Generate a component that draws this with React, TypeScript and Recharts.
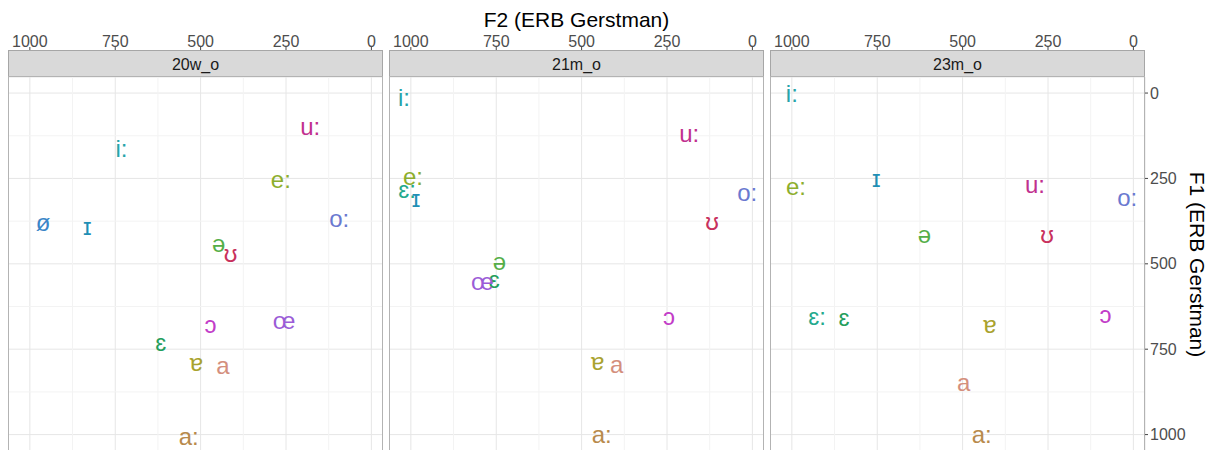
import { ScatterChart, Scatter, XAxis, YAxis, CartesianGrid, ReferenceLine } from "recharts"

// vowel order + colours (shared across panels)
const vowelNames = ["a", "a:", "ɐ", "ə", "ɛ", "ɛ:", "e:", "i:", "ɪ", "ø", "o:", "œ", "ɔ", "u:", "ʊ"]
const vowelColors = [
  "#d48f7d", "#b88a4c", "#a9a22e", "#55ae48", "#249e5c", "#23a98c", "#8dae2d", "#27a4aa",
  "#1f8fb5", "#3b86c8", "#6a79d0", "#9b5cd7", "#c23dc8", "#c1308f", "#c8315d",
]

const speakers = ["20w_o", "21m_o", "23m_o"]

// 20w_o
const vowels20w = ["u:", "i:", "e:", "o:", "ø", "ɪ", "ə", "ʊ", "ɔ", "œ", "ɛ", "ɐ", "a", "a:"]
const f2_20w = [179, 732, 265, 94, 961, 832, 447, 412, 471, 256, 617, 512, 435, 535]
const f1_20w = [99, 161, 254, 366, 380, 392, 441, 471, 678, 667, 731, 790, 798, 1006]

// 21m_o
const vowels21m = ["i:", "u:", "e:", "ɛ:", "ɪ", "o:", "ʊ", "ə", "ɛ", "œ", "ɔ", "ɐ", "a", "a:"]
const f2_21m = [1020, 185, 994, 1011, 985, 15, 118, 741, 756, 791, 244, 453, 397, 441]
const f1_21m = [12, 117, 243, 281, 310, 292, 377, 494, 547, 552, 655, 787, 795, 1000]

// 23m_o
const vowels23m = ["i:", "e:", "ɪ", "u:", "o:", "ə", "ʊ", "ɛ:", "ɛ", "ɐ", "ɔ", "a", "a:"]
const f2_23m = [1000, 988, 753, 288, 18, 612, 253, 926, 847, 420, 82, 497, 444]
const f1_23m = [0, 275, 249, 269, 307, 415, 415, 655, 658, 678, 649, 848, 1000]

const majorTicks = [0, 250, 500, 750, 1000]
const minorTicks = [125, 375, 625, 875]

const F2_DOMAIN = [-34, 1064]
const F1_DOMAIN = [-47, 1051]

const PANEL_LEFT = [8, 389, 770]
const PANEL_W = 375
const STRIP_TOP = 50
const PLOT_TOP = 77
const PLOT_BOTTOM = 452
const Y_AXIS_W = 78
const X_AXIS_H = 30

const FONT = "'Liberation Sans', 'DejaVu Sans', Arial, sans-serif"

function buildRows(names: string[], f2: number[], f1: number[]) {
  return names.map((v, i) => ({
    vowel: v,
    f2: f2[i],
    f1: f1[i],
    color: vowelColors[vowelNames.indexOf(v)],
  }))
}

const panels = [
  buildRows(vowels20w, f2_20w, f1_20w),
  buildRows(vowels21m, f2_21m, f1_21m),
  buildRows(vowels23m, f2_23m, f1_23m),
]

function VowelLabel(props: any) {
  const { cx, cy, payload } = props
  return (
    <text x={cx} y={cy} textAnchor="middle" dominantBaseline="central" fontSize={24} fill={payload.color}>
      {payload.vowel}
    </text>
  )
}

function TopTick(props: any) {
  const { x, payload } = props
  return (
    <g>
      <line x1={x} x2={x} y1={STRIP_TOP - 3} y2={STRIP_TOP} stroke="#444" />
      <text x={x} y={STRIP_TOP - 3} textAnchor="middle" fontSize={16} fill="#4d4d4d">
        {payload.value}
      </text>
    </g>
  )
}

function Panel({ index }: { index: number }) {
  const isLast = index === 2
  const width = PANEL_W + (isLast ? Y_AXIS_W : 0)
  return (
    <div style={{ position: "absolute", left: PANEL_LEFT[index], top: 0 }}>
      <ScatterChart
        width={width}
        height={PLOT_BOTTOM}
        margin={{ top: PLOT_TOP - X_AXIS_H, right: 0, bottom: 0, left: 0 }}
      >
        {minorTicks.map((v) => (
          <ReferenceLine key={"mx" + v} x={v} stroke="#f3f3f3" />
        ))}
        {minorTicks.map((v) => (
          <ReferenceLine key={"my" + v} y={v} stroke="#f3f3f3" />
        ))}
        <CartesianGrid stroke="#e6e6e6" />
        <XAxis
          type="number"
          dataKey="f2"
          orientation="top"
          reversed
          domain={F2_DOMAIN}
          allowDataOverflow
          ticks={majorTicks}
          interval={0}
          height={X_AXIS_H}
          axisLine={false}
          tickLine={false}
          tick={TopTick}
        />
        <YAxis
          type="number"
          dataKey="f1"
          orientation="right"
          reversed
          domain={F1_DOMAIN}
          allowDataOverflow
          ticks={majorTicks}
          interval={0}
          hide={!isLast}
          width={isLast ? Y_AXIS_W : 0}
          axisLine={false}
          tickLine={{ stroke: "#444" }}
          tickSize={3}
          tickMargin={2}
          tick={{ fill: "#4d4d4d", fontSize: 16 }}
        />
        <Scatter data={panels[index]} isAnimationActive={false} shape={VowelLabel} />
      </ScatterChart>
    </div>
  )
}

export default function App() {
  const plotRight = PANEL_LEFT[2] + PANEL_W
  return (
    <div
      style={{
        position: "absolute",
        left: 0,
        top: 0,
        width: 1223,
        height: 450,
        overflow: "hidden",
        background: "#fff",
        fontFamily: FONT,
      }}
    >
      {speakers.map((s, i) => (
        <Panel key={s} index={i} />
      ))}
      <svg
        width={1223}
        height={450}
        style={{ position: "absolute", left: 0, top: 0, pointerEvents: "none" }}
      >
        <text x={(PANEL_LEFT[0] + plotRight) / 2} y={27} textAnchor="middle" fontSize={21} fill="#000">
          F2 (ERB Gerstman)
        </text>
        {speakers.map((s, i) => (
          <g key={s}>
            <rect
              x={PANEL_LEFT[i] + 0.5}
              y={STRIP_TOP + 0.5}
              width={PANEL_W - 1}
              height={PLOT_TOP - STRIP_TOP - 1}
              fill="#d9d9d9"
              stroke="#a6a6a6"
            />
            <text
              x={PANEL_LEFT[i] + PANEL_W / 2}
              y={(STRIP_TOP + PLOT_TOP) / 2 + 1}
              textAnchor="middle"
              dominantBaseline="central"
              fontSize={16}
              fill="#1a1a1a"
            >
              {s}
            </text>
            <rect
              x={PANEL_LEFT[i] + 0.5}
              y={PLOT_TOP - 0.5}
              width={PANEL_W - 1}
              height={PLOT_BOTTOM - PLOT_TOP}
              fill="none"
              stroke="#b3b3b3"
            />
          </g>
        ))}
        <text
          x={1197}
          y={(PLOT_TOP + PLOT_BOTTOM) / 2}
          textAnchor="middle"
          dominantBaseline="central"
          fontSize={21}
          fill="#000"
          transform={`rotate(90 1197 ${(PLOT_TOP + PLOT_BOTTOM) / 2})`}
        >
          F1 (ERB Gerstman)
        </text>
      </svg>
    </div>
  )
}
